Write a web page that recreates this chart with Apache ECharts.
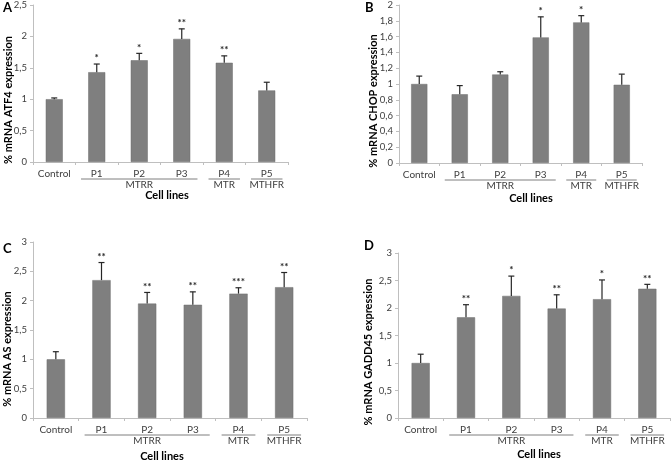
<!DOCTYPE html>
<html><head><meta charset="utf-8">
<script src="https://cdn.jsdelivr.net/npm/echarts@6/dist/echarts.min.js"></script>
<style>html,body{margin:0;padding:0;background:#fff}#c{width:671px;height:460px}</style>
</head><body><div id="c"></div>
<script>
const categories = ['Control','P1','P2','P3','P4','P5'];
const groupNames = ['MTRR','MTR','MTHFR'];
const groupFrom = [1,4,5];
const groupTo = [3,4,5];

const atf4 = [1.00,1.43,1.62,1.96,1.58,1.14];
const atf4Upper = [1.02,1.56,1.73,2.12,1.69,1.27];
const atf4Stars = ['','*','*','**','**',''];

const chop = [1.00,0.87,1.12,1.59,1.78,0.99];
const chopUpper = [1.10,0.98,1.155,1.85,1.865,1.125];
const chopStars = ['','','','*','*',''];

const as = [1.00,2.35,1.95,1.93,2.12,2.23];
const asUpper = [1.13,2.65,2.14,2.15,2.22,2.48];
const asStars = ['','**','**','**','***','**'];

const gadd = [1.00,1.83,2.22,1.99,2.16,2.35];
const gaddUpper = [1.16,2.06,2.58,2.24,2.51,2.43];
const gaddStars = ['','**','*','**','*','**'];

const panels = [
  {letter:'A', yName:'% mRNA ATF4 expression', vals:atf4, up:atf4Upper, stars:atf4Stars, max:2.5, interval:0.5,
   grid:{left:33, top:4, width:255, height:158}, letterPos:[3,1], yNamePos:[8,100], cellPos:[167,195]},
  {letter:'B', yName:'% mRNA CHOP expression', vals:chop, up:chopUpper, stars:chopStars, max:2, interval:0.2,
   grid:{left:399, top:4, width:243, height:159}, letterPos:[365,1], yNamePos:[373,101], cellPos:[531,198]},
  {letter:'C', yName:'% mRNA AS expression', vals:as, up:asUpper, stars:asStars, max:3, interval:0.5,
   grid:{left:33, top:242, width:274, height:176}, letterPos:[3,242], yNamePos:[7,349], cellPos:[162,456]},
  {letter:'D', yName:'% mRNA GADD45 expression', vals:gadd, up:gaddUpper, stars:gaddStars, max:3, interval:0.5,
   grid:{left:398, top:253, width:272, height:165}, letterPos:[364,239], yNamePos:[368,352], cellPos:[539,454]}
];

const FONT = 'Lato';
const axisColor = '#bfbfbf';
const textColor = '#404040';
const barColor = '#7f7f7f';

const option = {
  animation:false,
  backgroundColor:'#fff',
  textStyle:{fontFamily:FONT},
  grid:[], xAxis:[], yAxis:[], series:[], graphic:[]
};

panels.forEach((p,i)=>{
  option.grid.push(p.grid);
  option.xAxis.push({
    type:'category', gridIndex:i, data:categories,
    axisLine:{lineStyle:{color:axisColor}},
    axisTick:{show:true, length:3, lineStyle:{color:axisColor}},
    axisLabel:{color:textColor, fontSize:10, fontFamily:FONT, margin:7, interval:0, hideOverlap:false}
  });
  option.yAxis.push({
    type:'value', gridIndex:i, min:0, max:p.max, interval:p.interval,
    splitLine:{show:false},
    axisLine:{show:true, lineStyle:{color:axisColor}},
    axisTick:{show:true, length:3, lineStyle:{color:axisColor}},
    axisLabel:{color:textColor, fontSize:9.5, fontFamily:FONT, margin:6,
      formatter:v=>String(+v.toFixed(1)).replace('.',',')}
  });
  option.series.push({
    type:'bar', xAxisIndex:i, yAxisIndex:i, data:p.vals, barWidth:'40%',
    itemStyle:{color:barColor, borderColor:'#6e6e6e', borderWidth:0.5}
  });
  option.series.push({
    type:'custom', xAxisIndex:i, yAxisIndex:i, clip:false, z:5,
    data:p.vals.map((v,k)=>[k, v, p.up[k], p.stars[k]]),
    renderItem:(params, api)=>{
      const k = api.value(0);
      const base = api.coord([k, api.value(1)]);
      const top = api.coord([k, api.value(2)]);
      const star = p.stars[params.dataIndex];
      const ch = [
        {type:'line', shape:{x1:base[0], y1:base[1], x2:top[0], y2:top[1]}, style:{stroke:'#262626', lineWidth:1.2}},
        {type:'line', shape:{x1:top[0]-3, y1:top[1], x2:top[0]+3, y2:top[1]}, style:{stroke:'#262626', lineWidth:1.2}}
      ];
      if (star) ch.push({type:'text', x:top[0], y:top[1]-1, style:{text:star, fill:'#262626', font:'bold 10px '+FONT, align:'center', verticalAlign:'bottom'}});
      return {type:'group', children:ch};
    }
  });
  option.series.push({
    type:'custom', xAxisIndex:i, yAxisIndex:i, clip:false, z:5,
    data:groupNames.map((g,k)=>[groupFrom[k], groupTo[k], 0]),
    renderItem:(params, api)=>{
      const a = api.coord([api.value(0), 0]);
      const b = api.coord([api.value(1), 0]);
      const bw = api.size([1,0])[0];
      const x1 = a[0]-0.37*bw, x2 = b[0]+0.37*bw, y = a[1]+17;
      return {type:'group', children:[
        {type:'line', shape:{x1:x1, y1:y, x2:x2, y2:y}, style:{stroke:'#7f7f7f', lineWidth:1}},
        {type:'text', x:(x1+x2)/2, y:y+1, style:{text:groupNames[params.dataIndex], fill:textColor, font:'10px '+FONT, align:'center', verticalAlign:'top'}}
      ]};
    }
  });
  option.graphic.push({type:'text', left:p.letterPos[0], top:p.letterPos[1],
    style:{text:p.letter, font:'bold 13px '+FONT, fill:'#000'}});
  option.graphic.push({type:'text', x:p.yNamePos[0], y:p.yNamePos[1], rotation:Math.PI/2,
    style:{text:p.yName, font:'bold 11px '+FONT, fill:'#000', align:'center', verticalAlign:'middle'}});
  option.graphic.push({type:'text', x:p.cellPos[0], y:p.cellPos[1],
    style:{text:'Cell lines', font:'bold 11px '+FONT, fill:'#000', align:'center', verticalAlign:'middle'}});
});

const chart = echarts.init(document.getElementById('c'), null, {renderer:'canvas'});
chart.setOption(option);
</script></body></html>
